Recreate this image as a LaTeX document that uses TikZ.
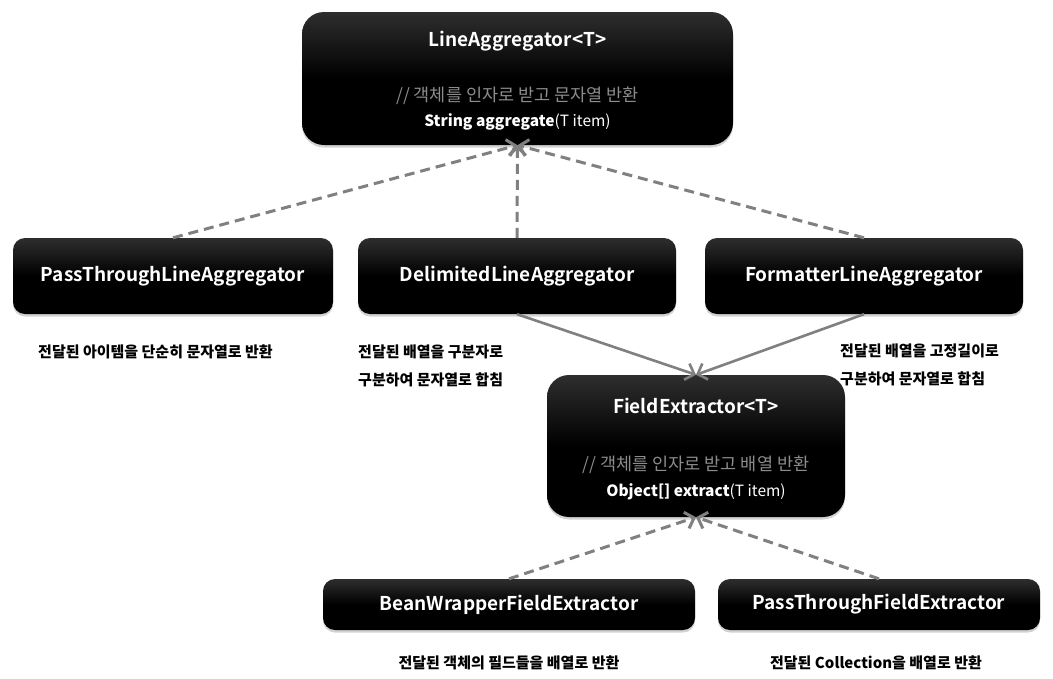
\documentclass[tikz,border=0pt]{standalone}
\usepackage{fontspec}
\setmainfont{Noto Sans CJK KR}
\newfontfamily\titlefont{Noto Sans CJK KR Bold}
\usetikzlibrary{arrows.meta,shadows}
\definecolor{arrowgray}{HTML}{808080}
\definecolor{commentgray}{HTML}{8C8C8C}
\begin{document}
\begin{tikzpicture}[x=1pt,y=-1pt,
  boxbase/.style={rectangle, inner sep=0pt, top color=black!82, bottom color=black, middle color=black,
    drop shadow={shadow xshift=0pt,shadow yshift=-2.5pt,opacity=0.35}},
  smallbox/.style={boxbase, rounded corners=12pt, text=white, font=\titlefont\fontsize{19}{24}\selectfont},
  bigbox/.style={boxbase, rounded corners=22pt},
  titletext/.style={text=white, inner sep=0pt, font=\titlefont\fontsize{19}{24}\selectfont},
  commenttext/.style={text=commentgray, inner sep=0pt, font=\fontsize{17.5}{20}\selectfont},
  methodtext/.style={text=white, inner sep=0pt, font=\fontsize{15.5}{18}\selectfont},
  labeltext/.style={text=black, inner sep=0pt, font=\bfseries\fontsize{15}{28}\selectfont, align=left},
  dasharrow/.style={draw=arrowgray, line width=3pt, dash pattern=on 10pt off 6pt,
    -{Straight Barb[length=8pt,width=17pt,line width=3pt]}},
  solidarrow/.style={draw=arrowgray, line width=2.6pt,
    -{Straight Barb[length=8pt,width=17pt,line width=2.6pt]}}
]
\useasboundingbox (0,0) rectangle (1053,678);
\fill[white] (0,0) rectangle (1053,678);

% boxes
\node[bigbox, minimum width=431pt, minimum height=133pt] (LA) at (517.5,78.5) {};
\node[titletext] (LAt) at (517.5,41) {LineAggregator<T>};
\node[commenttext] (LAc) at (517.5,96) {// 객체를 인자로 받고 문자열 반환};
\node[methodtext] (LAm) at (517.5,122) {\textbf{String aggregate}(T item)};

\node[smallbox, minimum width=320pt, minimum height=76pt] (PT) at (173,276) {PassThroughLineAggregator};
\node[smallbox, minimum width=318pt, minimum height=76pt] (DL) at (517,276) {DelimitedLineAggregator};
\node[smallbox, minimum width=318pt, minimum height=76pt] (FL) at (864,276) {FormatterLineAggregator};

\node[bigbox, minimum width=298pt, minimum height=142pt] (FE) at (696,446) {};
\node[titletext] (FEt) at (696,406) {FieldExtractor<T>};
\node[commenttext] (FEc) at (696,465) {// 객체를 인자로 받고 배열 반환};
\node[methodtext] (FEm) at (696,492) {\textbf{Object[] extract}(T item)};

\node[smallbox, minimum width=372pt, minimum height=51pt] (BW) at (509,604.5) {BeanWrapperFieldExtractor};
\node[smallbox, minimum width=322pt, minimum height=51pt] (PTF) at (879,604.5) {PassThroughFieldExtractor};

% labels
\node[labeltext, anchor=west] (lPT) at (38,352) {전달된 아이템을 단순히 문자열로 반환};
\node[labeltext, anchor=west] (lDL) at (358,366) {전달된 배열을 구분자로\\구분하여 문자열로 합침};
\node[labeltext, anchor=west] (lFL) at (840,365) {전달된 배열을 고정길이로\\구분하여 문자열로 합침};
\node[labeltext] (lBW) at (509,663) {전달된 객체의 필드들을 배열로 반환};
\node[labeltext] (lPTF) at (876,663) {전달된 Collection을 배열로 반환};

% connectors
\draw[dasharrow] (PT.north) -- (LA.south);
\draw[dasharrow] (DL.north) -- (LA.south);
\draw[dasharrow] (FL.north) -- (LA.south);
\draw[solidarrow] (DL.south) -- (FE.north);
\draw[solidarrow] (FL.south) -- (FE.north);
\draw[dasharrow] (BW.north) -- (FE.south);
\draw[dasharrow] (PTF.north) -- (FE.south);
\end{tikzpicture}
\end{document}
